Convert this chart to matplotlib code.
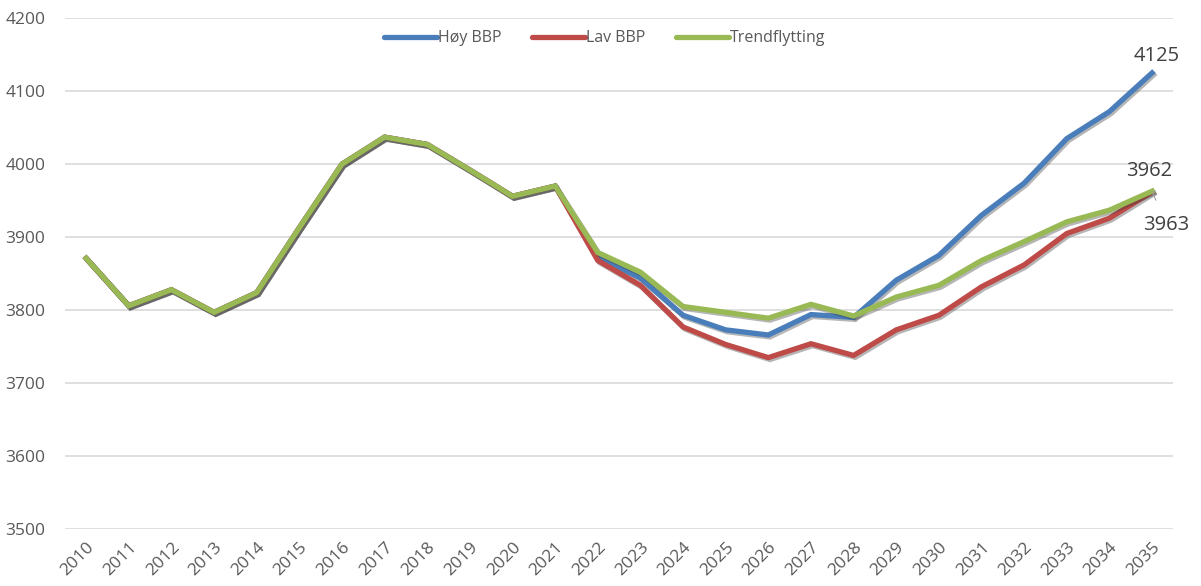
import matplotlib
matplotlib.use("Agg")
import matplotlib.pyplot as plt
import matplotlib.patheffects as pe
from matplotlib.lines import Line2D

years = list(range(2010, 2036))

# shared history 2010-2021, scenarios diverge from 2022
history = [3871, 3806, 3828, 3797, 3824, 3913, 4000, 4037, 4027, 3992, 3956, 3970]
hoy_bbp = history + [3873, 3844, 3793, 3773, 3766, 3794, 3790, 3841, 3875,
                     3930, 3974, 4035, 4072, 4125]
lav_bbp = history + [3868, 3834, 3777, 3753, 3735, 3754, 3738, 3773, 3793,
                     3832, 3862, 3905, 3926, 3962]
trend = history + [3879, 3852, 3805, 3797, 3789, 3808, 3792, 3818, 3834,
                   3868, 3894, 3921, 3937, 3963]

series = [("Høy BBP", hoy_bbp, "#4a7ebb"),
          ("Lav BBP", lav_bbp, "#be4b48"),
          ("Trendflytting", trend, "#98b954")]

plt.rcParams["font.family"] = ["Open Sans", "DejaVu Sans"]

fig = plt.figure(figsize=(12.01, 5.86), dpi=100)
ax = fig.add_axes([0.054, 0.097, 0.923, 0.872])

shadow = [pe.SimpleLineShadow(offset=(1.2, -1.4), shadow_color="#303030", alpha=0.35),
          pe.Normal()]
handles = []
for name, vals, col in series:
    ax.plot(years, vals, color=col, lw=3.8, solid_joinstyle="miter",
            path_effects=shadow)
    handles.append(Line2D([], [], color=col, lw=3.8, solid_capstyle="round",
                          label=name))

ax.set_ylim(3500, 4200)
ax.set_xlim(years[0] - 0.5, years[-1] + 0.5)
ax.set_yticks(range(3500, 4201, 100))
ax.set_xticks(years)
ax.set_xticklabels([str(y) for y in years], rotation=45, ha="right",
                   rotation_mode="anchor")
ax.grid(axis="y", color="#d9d9d9", lw=1.2)
ax.set_axisbelow(True)
for s in ax.spines.values():
    s.set_visible(False)
ax.tick_params(length=0, colors="#595959", labelsize=12.5)
ax.tick_params(axis="x", pad=7)
ax.tick_params(axis="y", pad=14)

leg = ax.legend(handles=handles, loc="center", bbox_to_anchor=(0.487, 0.961),
                ncol=3, frameon=False, fontsize=11.5, handlelength=3.3,
                handletextpad=0.1, columnspacing=1.9)
for t in leg.get_texts():
    t.set_color("#595959")

# end labels
ax.annotate(str(hoy_bbp[-1]), (years[-1], hoy_bbp[-1]), xytext=(3, 5),
            textcoords="offset points", ha="center", va="bottom",
            fontsize=14.5, color="#404040")
ax.annotate(str(lav_bbp[-1]), (years[-1], lav_bbp[-1]), xytext=(-2, 8),
            textcoords="offset points", ha="center", va="bottom",
            fontsize=14.5, color="#404040")
ax.annotate(str(trend[-1]), (years[-1], trend[-1]), xytext=(10, -24),
            textcoords="offset points", ha="center", va="center",
            fontsize=14.5, color="#404040",
            arrowprops=dict(arrowstyle="-", color="#a0a0a0", lw=0.8,
                            shrinkA=9, shrinkB=0))

fig.savefig("out.png", dpi=100)
